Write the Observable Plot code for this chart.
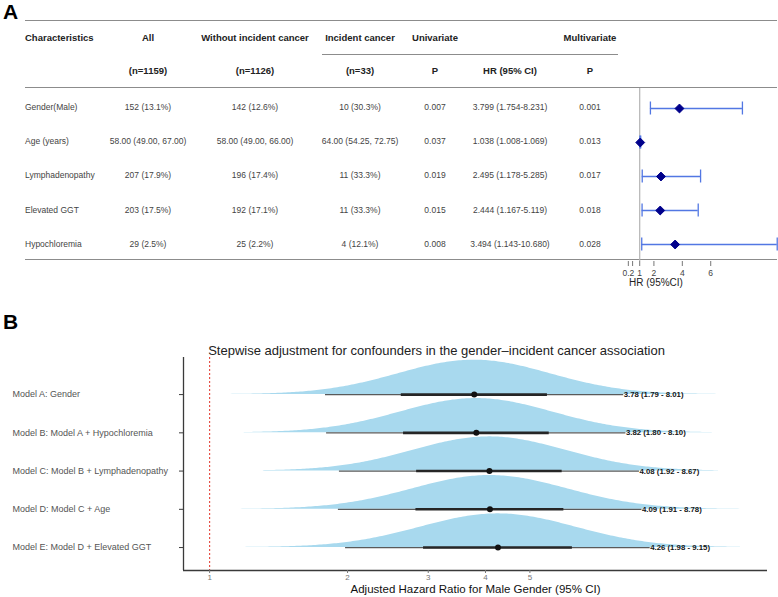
<!DOCTYPE html>
<html>
<head>
<meta charset="utf-8">
<script src="https://cdn.jsdelivr.net/npm/d3@7"></script>
<script src="https://cdn.jsdelivr.net/npm/@observablehq/plot@0.6"></script>
<style>
  body { margin: 0; background: #fff; font-family: "Liberation Sans", Arial, sans-serif; }
  #fig { position: relative; width: 778px; height: 597px; overflow: hidden; background: #fff; }
  .tag { position: absolute; font-weight: bold; font-size: 21px; color: #000; line-height: 1; }
  .cell { position: absolute; white-space: nowrap; transform: translate(-50%, -50%);
          font-size: 8.5px; color: #444; line-height: 1; }
  .cell.left { transform: translate(0, -50%); }
  .cell.head { font-weight: bold; font-size: 9.5px; color: #222; }
  .hline { position: absolute; height: 0; border-top: 1.5px solid #8c8c8c; }
</style>
</head>
<body>
<div id="fig"></div>
<script>
// ---- Panel A: baseline characteristics and multivariate Cox model ----
const characteristics = ["Gender(Male)", "Age (years)", "Lymphadenopathy", "Elevated GGT", "Hypochloremia"];
const allPatients     = ["152 (13.1%)", "58.00 (49.00, 67.00)", "207 (17.9%)", "203 (17.5%)", "29 (2.5%)"];
const withoutCancer   = ["142 (12.6%)", "58.00 (49.00, 66.00)", "196 (17.4%)", "192 (17.1%)", "25 (2.2%)"];
const incidentCancer  = ["10 (30.3%)", "64.00 (54.25, 72.75)", "11 (33.3%)", "11 (33.3%)", "4 (12.1%)"];
const univariateP     = ["0.007", "0.037", "0.019", "0.015", "0.008"];
const hazardRatio     = [3.799, 1.038, 2.495, 2.444, 3.494];
const hrLower         = [1.754, 1.008, 1.178, 1.167, 1.143];
const hrUpper         = [8.231, 1.069, 5.285, 5.119, 10.680];
const multivariateP   = ["0.001", "0.013", "0.017", "0.018", "0.028"];
const groupSizes      = ["(n=1159)", "(n=1126)", "(n=33)"];
const headerTop       = ["Characteristics", "All", "Without incident cancer", "Incident cancer", "Univariate", "", "Multivariate"];
const forestTicks     = [0.2, 0.5, 1, 2, 4, 6];
const forestTickText  = ["0.2", "", "1", "2", "4", "6"];

// ---- Panel B: stepwise adjustment of the gender hazard ratio ----
const models = [
  "Model A: Gender",
  "Model B: Model A + Hypochloremia",
  "Model C: Model B + Lymphadenopathy",
  "Model D: Model C + Age",
  "Model E: Model D + Elevated GGT"
];
const adjHR     = [3.78, 3.82, 4.08, 4.09, 4.26];
const adjLower  = [1.79, 1.80, 1.92, 1.91, 1.98];
const adjUpper  = [8.01, 8.10, 8.67, 8.78, 9.15];
const inner66Lo = [2.62, 2.65, 2.83, 2.82, 2.93];
const inner66Hi = [5.46, 5.51, 5.88, 5.93, 6.19];
const slabFrom  = [1.10, 1.19, 1.31, 1.00, 1.17];
const slabTo    = [13.2, 12.5, 12.9, 14.4, 14.4];
const bTicks    = [1, 2, 3, 4, 5];

const FONT = '"Liberation Sans", Arial, sans-serif';
const fig = document.getElementById("fig");

function addDiv(cls, text, style) {
  const d = document.createElement("div");
  d.className = cls;
  if (text != null) d.textContent = text;
  Object.assign(d.style, style);
  fig.appendChild(d);
  return d;
}

// Panel letters
addDiv("tag", "A", {left: "3px", top: "1px"});
addDiv("tag", "B", {left: "3px", top: "311px"});

// ---- Table layout ----
const colX = [25, 148, 255, 360, 435, 510, 590];
const headY = [38, 71];
const bodyY = [107, 141, 175, 210, 244];

headerTop.forEach((t, j) => {
  if (!t) return;
  addDiv("cell head" + (j === 0 ? " left" : ""), t, {left: colX[j] + "px", top: headY[0] + "px"});
});
const headerSub = ["", ...groupSizes, "P", "HR (95% CI)", "P"];
headerSub.forEach((t, j) => {
  if (!t) return;
  addDiv("cell head", t, {left: colX[j] + "px", top: headY[1] + "px"});
});

characteristics.forEach((name, i) => {
  const hrText = `${hazardRatio[i].toFixed(3)} (${hrLower[i].toFixed(3)}-${hrUpper[i].toFixed(3)})`;
  const cells = [name, allPatients[i], withoutCancer[i], incidentCancer[i], univariateP[i], hrText, multivariateP[i]];
  cells.forEach((t, j) => {
    addDiv("cell" + (j === 0 ? " left" : ""), t, {left: colX[j] + "px", top: bodyY[i] + "px"});
  });
});

// Table rules
[[25, 777, 21], [322, 618, 55], [25, 777, 88], [25, 777, 260]].forEach(([x1, x2, y]) => {
  addDiv("hline", null, {left: x1 + "px", width: (x2 - x1) + "px", top: (y - 0.75) + "px"});
});

// ---- Forest plot (panel A, right side) ----
const forestRows = characteristics.map((name, i) => ({
  name, hr: hazardRatio[i], lo: hrLower[i], hi: hrUpper[i]
}));
const ciColor = "#5277e3";
const forest = Plot.plot({
  width: 158,
  height: 200,
  marginLeft: 0,
  marginRight: 1,
  marginTop: 0,
  marginBottom: 27,
  style: {fontFamily: FONT, background: "transparent", overflow: "visible"},
  x: {domain: [-0.352, 10.70]},
  y: {domain: characteristics, range: [2, 173], padding: 0, axis: null},
  marks: [
    Plot.ruleX([1], {stroke: "#b3b3b3", strokeWidth: 1.2}),
    Plot.ruleY(forestRows, {y: "name", x1: "lo", x2: "hi", stroke: ciColor, strokeWidth: 1.3}),
    Plot.tickX(forestRows, {x: "lo", y: "name", stroke: ciColor, strokeWidth: 1.3, insetTop: 10.5, insetBottom: 10.5}),
    Plot.tickX(forestRows, {x: "hi", y: "name", stroke: ciColor, strokeWidth: 1.3, insetTop: 10.5, insetBottom: 10.5}),
    Plot.dot(forestRows, {x: "hr", y: "name", symbol: "diamond2", r: 4, fill: "#00008b", stroke: "#00008b", strokeWidth: 1}),
    Plot.axisX({
      ticks: forestTicks,
      tickFormat: d => forestTickText[forestTicks.indexOf(d)],
      tickSize: 5,
      tickPadding: 3,
      fontSize: 8.5,
      color: "#444",
      stroke: "#777",
      label: null
    })
  ]
});
forest.style.position = "absolute";
forest.style.left = "620px";
forest.style.top = "88px";
fig.appendChild(forest);
addDiv("cell", "HR (95%CI)", {left: "656px", top: "283px", fontSize: "10px", color: "#222"});

// ---- Panel B: half-eye plot of adjusted hazard ratios ----
const nRows = models.length;
const rowsB = models.map((model, i) => ({
  model,
  row: nRows - i,
  hr: adjHR[i],
  lo: adjLower[i],
  hi: adjUpper[i],
  lo66: inner66Lo[i],
  hi66: inner66Hi[i],
  label: `${adjHR[i].toFixed(2)} (${adjLower[i].toFixed(2)} - ${adjUpper[i].toFixed(2)})`
}));

// Slab: normal density on the log-HR scale implied by each estimate and its 95% CI
const sds = rowsB.map(r => (Math.log(r.hi) - Math.log(r.lo)) / (2 * 1.959964));
const sdMin = d3.min(sds);
const slab = [];
rowsB.forEach((r, i) => {
  const mu = Math.log(r.hr);
  const a = Math.log(slabFrom[i]), b = Math.log(slabTo[i]);
  const n = 240;
  for (let k = 0; k <= n; k++) {
    const t = a + (b - a) * k / n;
    const z = (t - mu) / sds[i];
    const h = 0.9 * (sdMin / sds[i]) * Math.exp(-0.5 * z * z);
    slab.push({model: r.model, x: Math.exp(t), base: r.row, top: r.row + h});
  }
});

const xMin = 0.877, xMax = 16.5, yMin = 0.4, yMax = 5.97;
const panelB = Plot.plot({
  width: 778,
  height: 267,
  marginLeft: 183,
  marginRight: 11,
  marginTop: 27,
  marginBottom: 27,
  style: {fontFamily: FONT, background: "transparent", overflow: "visible"},
  x: {type: "log", domain: [xMin, xMax]},
  y: {domain: [yMin, yMax]},
  marks: [
    Plot.areaY(slab, {x: "x", y1: "base", y2: "top", z: "model", fill: "#a8d9ee", curve: "linear"}),
    Plot.ruleX([1], {stroke: "#e5463c", strokeWidth: 1.1, strokeDasharray: "2,2"}),
    Plot.ruleY(rowsB, {y: "row", x1: "lo", x2: "hi", stroke: "#5a5a5a", strokeWidth: 1.3}),
    Plot.ruleY(rowsB, {y: "row", x1: "lo66", x2: "hi66", stroke: "#262626", strokeWidth: 2.6}),
    Plot.dot(rowsB, {x: "hr", y: "row", r: 3, fill: "#111", stroke: null}),
    Plot.text(rowsB, {x: "hi", y: "row", text: "label", textAnchor: "start", dx: 0,
                      fontWeight: "bold", fontSize: 7.8, fill: "#151515"}),
    Plot.ruleX([xMin], {stroke: "#3a3a3a", strokeWidth: 1.3}),
    Plot.ruleY([yMin], {stroke: "#3a3a3a", strokeWidth: 1.3}),
    Plot.axisY({ticks: rowsB.map(r => r.row), tickFormat: () => "", tickSize: 4, stroke: "#3a3a3a"}),
    Plot.text(rowsB, {y: "row", text: "model", frameAnchor: "left", textAnchor: "start",
                      dx: -171, fontSize: 9, fill: "#555"}),
    Plot.axisX({ticks: bTicks, tickFormat: d => String(d), tickSize: 3, tickPadding: 1,
                fontSize: 8, color: "#777", stroke: "#777", label: null}),
    Plot.text(["Adjusted Hazard Ratio for Male Gender (95% CI)"], {
      frameAnchor: "bottom", dy: 22, fontSize: 11.5, fill: "#111"
    }),
    Plot.text(["Stepwise adjustment for confounders in the gender\u2013incident cancer association"], {
      frameAnchor: "top", dy: -12, dx: -39, fontSize: 13, fill: "#222"
    })
  ]
});
panelB.style.position = "absolute";
panelB.style.left = "0px";
panelB.style.top = "330px";
fig.appendChild(panelB);
</script>
</body>
</html>
